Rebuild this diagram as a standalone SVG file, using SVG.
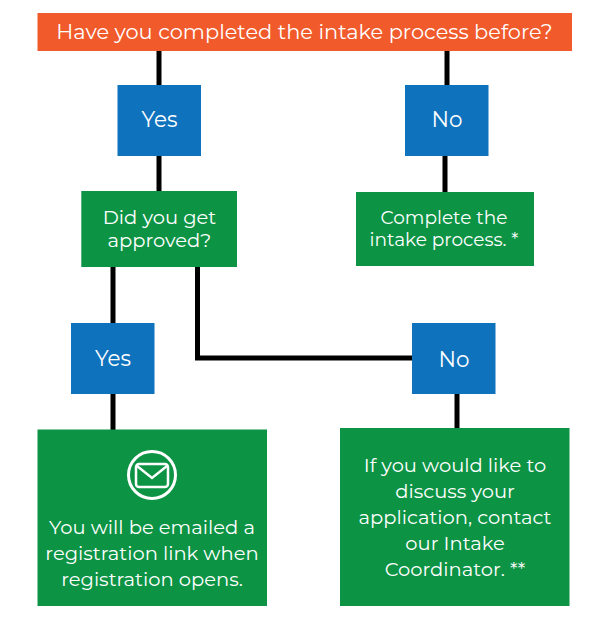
<svg xmlns="http://www.w3.org/2000/svg" width="600" height="619" viewBox="0 0 600 619">
<style>
text{font-family:Montserrat,"Open Sans","Noto Sans",sans-serif;fill:#fff;text-anchor:middle;font-size:19.500px}
text.t{font-size:20.900px}
text.l{font-size:21.500px}
text.s{font-size:18.500px}
.g{fill:#0c9344}.b{fill:#0f72bd}.o{fill:#f15a2b}
.c{fill:none;stroke:#000;stroke-width:5}
</style>
<rect width="600" height="619" fill="#fff"/>
<g id="connectors">
<path class="c" d="M159 50V86M159 156V192M447 50V86M445 156V192M113 266V323M113 393V430M197.500 266V358H413M457 393V428"/>
</g>
<g id="q"><rect class="o" x="37.500" y="13" width="534.500" height="38"/><text class="t" x="304.500" y="38.500">Have you completed the intake process before?</text></g>
<g id="yes1"><rect class="b" x="117.500" y="85" width="83.500" height="71"/><text class="l" x="159.500" y="127">Yes</text></g>
<g id="no1"><rect class="b" x="405" y="85" width="83.500" height="71"/><text class="l" x="447" y="127">No</text></g>
<g id="approved"><rect class="g" x="81.300" y="191" width="155.700" height="76"/><text x="159.500" y="224">Did you get</text><text x="159.500" y="247">approved?</text></g>
<g id="complete"><rect class="g" x="356" y="192" width="178" height="74"/><text class="s" x="444" y="224">Complete the</text><text class="s" x="444" y="245.500">intake process. *</text></g>
<g id="yes2"><rect class="b" x="71" y="323" width="83.500" height="71"/><text class="l" x="113" y="366">Yes</text></g>
<g id="no2"><rect class="b" x="412" y="323" width="83.500" height="71"/><text class="l" x="454" y="367">No</text></g>
<g id="emailed"><rect class="g" x="37.500" y="429.500" width="229.500" height="176.500"/>
<circle cx="152" cy="475" r="23.500" fill="none" stroke="#fff" stroke-width="3"/>
<rect x="136" y="464" width="32" height="23" rx="3" fill="none" stroke="#fff" stroke-width="2.500"/>
<path d="M137 466L152 478L167 466" fill="none" stroke="#fff" stroke-width="2.500"/>
<text x="152" y="533.500">You will be emailed a</text><text x="152" y="559.500">registration link when</text><text x="152" y="586">registration opens.</text></g>
<g id="coordinator"><rect class="g" x="340" y="428" width="229.500" height="178"/>
<text x="455" y="471.500">If you would like to</text><text x="455" y="497.500">discuss your</text><text x="455" y="523.500">application, contact</text><text x="455" y="549.500">our Intake</text><text x="455" y="575.500">Coordinator. **</text></g>
</svg>
